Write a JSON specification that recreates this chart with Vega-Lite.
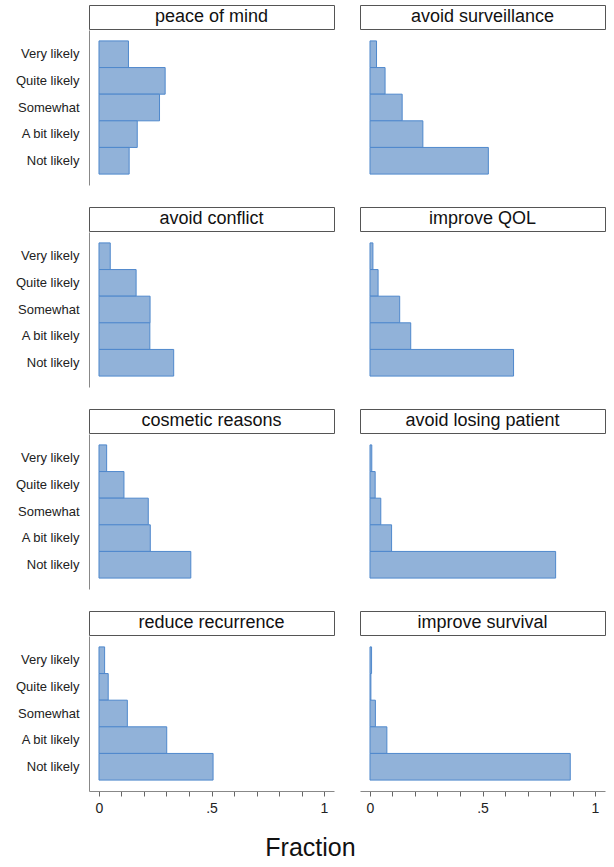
{
  "$schema": "https://vega.github.io/schema/vega-lite/v6.json",
  "padding": {"left": 15, "top": 4, "right": 5, "bottom": 0},
  "datasets": {
    "fractions": [
      {"reason": "peace of mind", "response": "Very likely", "fraction": 0.131},
      {"reason": "peace of mind", "response": "Quite likely", "fraction": 0.294},
      {"reason": "peace of mind", "response": "Somewhat", "fraction": 0.269},
      {"reason": "peace of mind", "response": "A bit likely", "fraction": 0.170},
      {"reason": "peace of mind", "response": "Not likely", "fraction": 0.134},
      {"reason": "avoid surveillance", "response": "Very likely", "fraction": 0.029},
      {"reason": "avoid surveillance", "response": "Quite likely", "fraction": 0.067},
      {"reason": "avoid surveillance", "response": "Somewhat", "fraction": 0.143},
      {"reason": "avoid surveillance", "response": "A bit likely", "fraction": 0.235},
      {"reason": "avoid surveillance", "response": "Not likely", "fraction": 0.526},
      {"reason": "avoid conflict", "response": "Very likely", "fraction": 0.050},
      {"reason": "avoid conflict", "response": "Quite likely", "fraction": 0.165},
      {"reason": "avoid conflict", "response": "Somewhat", "fraction": 0.227},
      {"reason": "avoid conflict", "response": "A bit likely", "fraction": 0.226},
      {"reason": "avoid conflict", "response": "Not likely", "fraction": 0.332},
      {"reason": "improve QOL", "response": "Very likely", "fraction": 0.013},
      {"reason": "improve QOL", "response": "Quite likely", "fraction": 0.036},
      {"reason": "improve QOL", "response": "Somewhat", "fraction": 0.132},
      {"reason": "improve QOL", "response": "A bit likely", "fraction": 0.181},
      {"reason": "improve QOL", "response": "Not likely", "fraction": 0.638},
      {"reason": "cosmetic reasons", "response": "Very likely", "fraction": 0.034},
      {"reason": "cosmetic reasons", "response": "Quite likely", "fraction": 0.111},
      {"reason": "cosmetic reasons", "response": "Somewhat", "fraction": 0.219},
      {"reason": "cosmetic reasons", "response": "A bit likely", "fraction": 0.228},
      {"reason": "cosmetic reasons", "response": "Not likely", "fraction": 0.408},
      {"reason": "avoid losing patient", "response": "Very likely", "fraction": 0.008},
      {"reason": "avoid losing patient", "response": "Quite likely", "fraction": 0.023},
      {"reason": "avoid losing patient", "response": "Somewhat", "fraction": 0.048},
      {"reason": "avoid losing patient", "response": "A bit likely", "fraction": 0.096},
      {"reason": "avoid losing patient", "response": "Not likely", "fraction": 0.825},
      {"reason": "reduce recurrence", "response": "Very likely", "fraction": 0.025},
      {"reason": "reduce recurrence", "response": "Quite likely", "fraction": 0.041},
      {"reason": "reduce recurrence", "response": "Somewhat", "fraction": 0.126},
      {"reason": "reduce recurrence", "response": "A bit likely", "fraction": 0.301},
      {"reason": "reduce recurrence", "response": "Not likely", "fraction": 0.507},
      {"reason": "improve survival", "response": "Very likely", "fraction": 0.007},
      {"reason": "improve survival", "response": "Quite likely", "fraction": 0.004},
      {"reason": "improve survival", "response": "Somewhat", "fraction": 0.024},
      {"reason": "improve survival", "response": "A bit likely", "fraction": 0.075},
      {"reason": "improve survival", "response": "Not likely", "fraction": 0.890}
    ]
  },
  "title": {"text": "Fraction", "orient": "bottom", "anchor": "middle", "fontSize": 25, "fontWeight": "normal", "color": "#111", "offset": 21},
  "spacing": 21,
  "vconcat": [
    {
      "spacing": 24,
      "hconcat": [
        {
          "spacing": 0,
          "vconcat": [
            {"data": {"name": "fractions"}, "transform": [{"filter": "datum.reason == 'peace of mind'"}, {"aggregate": [{"op": "count", "as": "n"}], "groupby": ["reason"]}],
             "width": 245, "height": 24, "view": {"stroke": "#555", "fill": "white"},
             "mark": {"type": "text", "fontSize": 18, "color": "#111"}, "encoding": {"text": {"field": "reason"}}},
            {"data": {"name": "fractions"}, "transform": [{"filter": "datum.reason == 'peace of mind'"}],
             "width": 245, "height": 155,
             "mark": {"type": "bar", "fill": "#91b2d9", "stroke": "#4f88cc", "strokeWidth": 1},
             "encoding": {
               "y": {"field": "response", "type": "nominal", "sort": ["Very likely", "Quite likely", "Somewhat", "A bit likely", "Not likely"], "scale": {"domain": ["Very likely", "Quite likely", "Somewhat", "A bit likely", "Not likely"], "paddingInner": 0, "paddingOuter": 0.41}, "axis": {"title": null, "ticks": false, "tickSize": 0, "labelPadding": 10, "labelFontSize": 13, "labelColor": "#222", "domainColor": "#888"}},
               "x": {"field": "fraction", "type": "quantitative", "scale": {"domain": [-0.0444, 1.0444], "nice": false}, "axis": null}
             }}
          ]
        },
        {
          "spacing": 0,
          "vconcat": [
            {"data": {"name": "fractions"}, "transform": [{"filter": "datum.reason == 'avoid surveillance'"}, {"aggregate": [{"op": "count", "as": "n"}], "groupby": ["reason"]}],
             "width": 245, "height": 24, "view": {"stroke": "#555", "fill": "white"},
             "mark": {"type": "text", "fontSize": 18, "color": "#111"}, "encoding": {"text": {"field": "reason"}}},
            {"data": {"name": "fractions"}, "transform": [{"filter": "datum.reason == 'avoid surveillance'"}],
             "width": 245, "height": 155,
             "mark": {"type": "bar", "fill": "#91b2d9", "stroke": "#4f88cc", "strokeWidth": 1},
             "encoding": {
               "y": {"field": "response", "type": "nominal", "sort": ["Very likely", "Quite likely", "Somewhat", "A bit likely", "Not likely"], "scale": {"domain": ["Very likely", "Quite likely", "Somewhat", "A bit likely", "Not likely"], "paddingInner": 0, "paddingOuter": 0.41}, "axis": null},
               "x": {"field": "fraction", "type": "quantitative", "scale": {"domain": [-0.0444, 1.0444], "nice": false}, "axis": null}
             }}
          ]
        }
      ]
    },
    {
      "spacing": 24,
      "hconcat": [
        {
          "spacing": 0,
          "vconcat": [
            {"data": {"name": "fractions"}, "transform": [{"filter": "datum.reason == 'avoid conflict'"}, {"aggregate": [{"op": "count", "as": "n"}], "groupby": ["reason"]}],
             "width": 245, "height": 24, "view": {"stroke": "#555", "fill": "white"},
             "mark": {"type": "text", "fontSize": 18, "color": "#111"}, "encoding": {"text": {"field": "reason"}}},
            {"data": {"name": "fractions"}, "transform": [{"filter": "datum.reason == 'avoid conflict'"}],
             "width": 245, "height": 155,
             "mark": {"type": "bar", "fill": "#91b2d9", "stroke": "#4f88cc", "strokeWidth": 1},
             "encoding": {
               "y": {"field": "response", "type": "nominal", "sort": ["Very likely", "Quite likely", "Somewhat", "A bit likely", "Not likely"], "scale": {"domain": ["Very likely", "Quite likely", "Somewhat", "A bit likely", "Not likely"], "paddingInner": 0, "paddingOuter": 0.41}, "axis": {"title": null, "ticks": false, "tickSize": 0, "labelPadding": 10, "labelFontSize": 13, "labelColor": "#222", "domainColor": "#888"}},
               "x": {"field": "fraction", "type": "quantitative", "scale": {"domain": [-0.0444, 1.0444], "nice": false}, "axis": null}
             }}
          ]
        },
        {
          "spacing": 0,
          "vconcat": [
            {"data": {"name": "fractions"}, "transform": [{"filter": "datum.reason == 'improve QOL'"}, {"aggregate": [{"op": "count", "as": "n"}], "groupby": ["reason"]}],
             "width": 245, "height": 24, "view": {"stroke": "#555", "fill": "white"},
             "mark": {"type": "text", "fontSize": 18, "color": "#111"}, "encoding": {"text": {"field": "reason"}}},
            {"data": {"name": "fractions"}, "transform": [{"filter": "datum.reason == 'improve QOL'"}],
             "width": 245, "height": 155,
             "mark": {"type": "bar", "fill": "#91b2d9", "stroke": "#4f88cc", "strokeWidth": 1},
             "encoding": {
               "y": {"field": "response", "type": "nominal", "sort": ["Very likely", "Quite likely", "Somewhat", "A bit likely", "Not likely"], "scale": {"domain": ["Very likely", "Quite likely", "Somewhat", "A bit likely", "Not likely"], "paddingInner": 0, "paddingOuter": 0.41}, "axis": null},
               "x": {"field": "fraction", "type": "quantitative", "scale": {"domain": [-0.0444, 1.0444], "nice": false}, "axis": null}
             }}
          ]
        }
      ]
    },
    {
      "spacing": 24,
      "hconcat": [
        {
          "spacing": 0,
          "vconcat": [
            {"data": {"name": "fractions"}, "transform": [{"filter": "datum.reason == 'cosmetic reasons'"}, {"aggregate": [{"op": "count", "as": "n"}], "groupby": ["reason"]}],
             "width": 245, "height": 24, "view": {"stroke": "#555", "fill": "white"},
             "mark": {"type": "text", "fontSize": 18, "color": "#111"}, "encoding": {"text": {"field": "reason"}}},
            {"data": {"name": "fractions"}, "transform": [{"filter": "datum.reason == 'cosmetic reasons'"}],
             "width": 245, "height": 155,
             "mark": {"type": "bar", "fill": "#91b2d9", "stroke": "#4f88cc", "strokeWidth": 1},
             "encoding": {
               "y": {"field": "response", "type": "nominal", "sort": ["Very likely", "Quite likely", "Somewhat", "A bit likely", "Not likely"], "scale": {"domain": ["Very likely", "Quite likely", "Somewhat", "A bit likely", "Not likely"], "paddingInner": 0, "paddingOuter": 0.41}, "axis": {"title": null, "ticks": false, "tickSize": 0, "labelPadding": 10, "labelFontSize": 13, "labelColor": "#222", "domainColor": "#888"}},
               "x": {"field": "fraction", "type": "quantitative", "scale": {"domain": [-0.0444, 1.0444], "nice": false}, "axis": null}
             }}
          ]
        },
        {
          "spacing": 0,
          "vconcat": [
            {"data": {"name": "fractions"}, "transform": [{"filter": "datum.reason == 'avoid losing patient'"}, {"aggregate": [{"op": "count", "as": "n"}], "groupby": ["reason"]}],
             "width": 245, "height": 24, "view": {"stroke": "#555", "fill": "white"},
             "mark": {"type": "text", "fontSize": 18, "color": "#111"}, "encoding": {"text": {"field": "reason"}}},
            {"data": {"name": "fractions"}, "transform": [{"filter": "datum.reason == 'avoid losing patient'"}],
             "width": 245, "height": 155,
             "mark": {"type": "bar", "fill": "#91b2d9", "stroke": "#4f88cc", "strokeWidth": 1},
             "encoding": {
               "y": {"field": "response", "type": "nominal", "sort": ["Very likely", "Quite likely", "Somewhat", "A bit likely", "Not likely"], "scale": {"domain": ["Very likely", "Quite likely", "Somewhat", "A bit likely", "Not likely"], "paddingInner": 0, "paddingOuter": 0.41}, "axis": null},
               "x": {"field": "fraction", "type": "quantitative", "scale": {"domain": [-0.0444, 1.0444], "nice": false}, "axis": null}
             }}
          ]
        }
      ]
    },
    {
      "spacing": 24,
      "hconcat": [
        {
          "spacing": 0,
          "vconcat": [
            {"data": {"name": "fractions"}, "transform": [{"filter": "datum.reason == 'reduce recurrence'"}, {"aggregate": [{"op": "count", "as": "n"}], "groupby": ["reason"]}],
             "width": 245, "height": 24, "view": {"stroke": "#555", "fill": "white"},
             "mark": {"type": "text", "fontSize": 18, "color": "#111"}, "encoding": {"text": {"field": "reason"}}},
            {"data": {"name": "fractions"}, "transform": [{"filter": "datum.reason == 'reduce recurrence'"}],
             "width": 245, "height": 155,
             "mark": {"type": "bar", "fill": "#91b2d9", "stroke": "#4f88cc", "strokeWidth": 1},
             "encoding": {
               "y": {"field": "response", "type": "nominal", "sort": ["Very likely", "Quite likely", "Somewhat", "A bit likely", "Not likely"], "scale": {"domain": ["Very likely", "Quite likely", "Somewhat", "A bit likely", "Not likely"], "paddingInner": 0, "paddingOuter": 0.41}, "axis": {"title": null, "ticks": false, "tickSize": 0, "labelPadding": 10, "labelFontSize": 13, "labelColor": "#222", "domainColor": "#888"}},
               "x": {"field": "fraction", "type": "quantitative", "scale": {"domain": [-0.0444, 1.0444], "nice": false},
                     "axis": {"title": null, "values": [0, 0.1, 0.2, 0.3, 0.4, 0.5, 0.6, 0.7, 0.8, 0.9, 1], "labelExpr": "datum.value == 0 ? '0' : datum.value == 0.5 ? '.5' : datum.value == 1 ? '1' : ''", "labelOverlap": false, "labelFlush": false, "tickSize": 5, "tickColor": "#666", "domainColor": "#888", "labelFontSize": 14, "labelPadding": 5, "labelColor": "#222"}}
             }}
          ]
        },
        {
          "spacing": 0,
          "vconcat": [
            {"data": {"name": "fractions"}, "transform": [{"filter": "datum.reason == 'improve survival'"}, {"aggregate": [{"op": "count", "as": "n"}], "groupby": ["reason"]}],
             "width": 245, "height": 24, "view": {"stroke": "#555", "fill": "white"},
             "mark": {"type": "text", "fontSize": 18, "color": "#111"}, "encoding": {"text": {"field": "reason"}}},
            {"data": {"name": "fractions"}, "transform": [{"filter": "datum.reason == 'improve survival'"}],
             "width": 245, "height": 155,
             "mark": {"type": "bar", "fill": "#91b2d9", "stroke": "#4f88cc", "strokeWidth": 1},
             "encoding": {
               "y": {"field": "response", "type": "nominal", "sort": ["Very likely", "Quite likely", "Somewhat", "A bit likely", "Not likely"], "scale": {"domain": ["Very likely", "Quite likely", "Somewhat", "A bit likely", "Not likely"], "paddingInner": 0, "paddingOuter": 0.41}, "axis": null},
               "x": {"field": "fraction", "type": "quantitative", "scale": {"domain": [-0.0444, 1.0444], "nice": false},
                     "axis": {"title": null, "values": [0, 0.1, 0.2, 0.3, 0.4, 0.5, 0.6, 0.7, 0.8, 0.9, 1], "labelExpr": "datum.value == 0 ? '0' : datum.value == 0.5 ? '.5' : datum.value == 1 ? '1' : ''", "labelOverlap": false, "labelFlush": false, "tickSize": 5, "tickColor": "#666", "domainColor": "#888", "labelFontSize": 14, "labelPadding": 5, "labelColor": "#222"}}
             }}
          ]
        }
      ]
    }
  ],
  "config": {
    "font": "Liberation Sans",
    "view": {"stroke": null},
    "axis": {"grid": false}
  }
}
